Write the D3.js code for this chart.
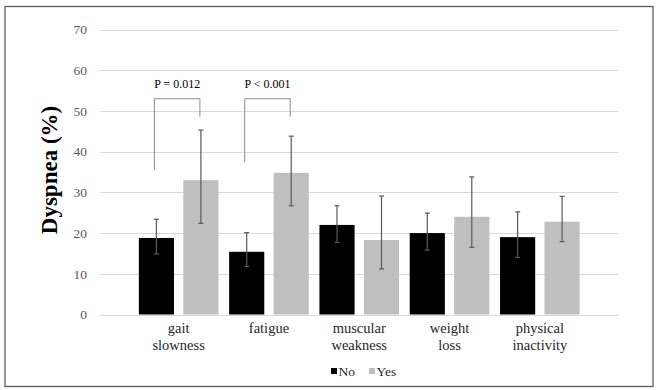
<!DOCTYPE html>
<html lang="en">
<head>
<meta charset="utf-8">
<script src="https://d3js.org/d3.v7.min.js"></script>
<style>
  body { margin: 0; background: #fff; }
  svg text { font-family: "Liberation Serif", "DejaVu Serif", serif !important; }
</style>
</head>
<body>
<script>
  var width = 660,
      height = 390;

  // data
  var categories = [["gait", "slowness"], ["fatigue"], ["muscular", "weakness"], ["weight", "loss"], ["physical", "inactivity"]];
  var catKeys = ["gait slowness", "fatigue", "muscular weakness", "weight loss", "physical inactivity"];
  var series = ["No", "Yes"];
  var noValues = [18.8, 15.4, 22.0, 20.0, 19.0];
  var noLow = [14.9, 11.8, 17.7, 15.8, 14.0];
  var noHigh = [23.4, 20.1, 26.7, 24.9, 25.2];
  var yesValues = [33.0, 34.8, 18.3, 24.0, 22.8];
  var yesLow = [22.4, 26.7, 11.2, 16.5, 17.9];
  var yesHigh = [45.3, 43.8, 29.1, 33.8, 29.0];
  var yTicks = [0, 10, 20, 30, 40, 50, 60, 70];
  // significance brackets: category index, label, left leg end, right leg end, top
  var brackets = [
    { cat: 0, label: "P = 0.012", left: 35.5, right: 48.6, top: 53 },
    { cat: 1, label: "P < 0.001", left: 37.4, right: 48.6, top: 53 }
  ];

  var colours = { "No": "#000000", "Yes": "#bfbfbf" };
  var serif = '"Liberation Serif", "Times New Roman", serif';

  var svg = d3.select('body')
    .append('svg')
    .attr('width', width)
    .attr('height', height);

  // outer frame
  svg.append('rect')
    .attr('x', 5).attr('y', 6.5)
    .attr('width', 648).attr('height', 380)
    .attr('fill', 'none')
    .attr('stroke', '#5a5a5a')
    .attr('stroke-width', 1.3);

  var y = d3.scaleLinear().domain([0, 70]).range([314.5, 29.5]);
  var x = d3.scaleBand().domain(catKeys).range([133.5, 585]).paddingInner(0).paddingOuter(0);
  var xs = d3.scaleBand().domain(series).range([0, x.bandwidth()]).paddingInner(0.21).paddingOuter(0.12);

  // gridlines
  svg.append('g').selectAll('line')
    .data(yTicks)
    .join('line')
    .attr('x1', 100).attr('x2', 618)
    .attr('y1', function(d) { return Math.round(y(d)) + 0.5; })
    .attr('y2', function(d) { return Math.round(y(d)) + 0.5; })
    .attr('stroke', '#d9d9d9')
    .attr('stroke-width', 1.2);

  // y axis labels
  var yAxis = d3.axisLeft(y).tickValues(yTicks).tickSize(0).tickPadding(0);
  var ya = svg.append('g').attr('transform', 'translate(87,0)').call(yAxis);
  ya.attr('font-family', serif);
  ya.select('.domain').remove();
  ya.selectAll('text')
    .attr('fill', '#595959')
    .style('font-size', '13.5px')
    .style('font-family', serif);

  // y title
  svg.append('text')
    .attr('transform', 'translate(57,170) rotate(-90)')
    .attr('text-anchor', 'middle')
    .style('font-family', serif)
    .style('font-size', '23px')
    .style('font-weight', 'bold')
    .attr('fill', '#000')
    .text('Dyspnea (%)');

  var rows = catKeys.map(function(k, i) {
    return [
      { cat: k, s: "No", v: noValues[i], lo: noLow[i], hi: noHigh[i] },
      { cat: k, s: "Yes", v: yesValues[i], lo: yesLow[i], hi: yesHigh[i] }
    ];
  }).flat();

  // bars
  svg.append('g').selectAll('rect')
    .data(rows)
    .join('rect')
    .attr('x', function(d) { return x(d.cat) + xs(d.s); })
    .attr('width', xs.bandwidth())
    .attr('y', function(d) { return y(d.v); })
    .attr('height', function(d) { return y(0) - y(d.v); })
    .attr('fill', function(d) { return colours[d.s]; });

  // error bars
  var eb = svg.append('g').attr('stroke', '#595959').attr('stroke-width', 1.2);
  rows.forEach(function(d) {
    var cx = x(d.cat) + xs(d.s) + xs.bandwidth() / 2;
    eb.append('line').attr('x1', cx).attr('x2', cx).attr('y1', y(d.hi)).attr('y2', y(d.lo));
    eb.append('line').attr('x1', cx - 2.5).attr('x2', cx + 2.5).attr('y1', y(d.hi)).attr('y2', y(d.hi));
    eb.append('line').attr('x1', cx - 2.5).attr('x2', cx + 2.5).attr('y1', y(d.lo)).attr('y2', y(d.lo));
  });

  // significance brackets
  brackets.forEach(function(b) {
    var k = catKeys[b.cat];
    var bl = x(k) + xs("No") + xs.bandwidth() / 2 - 2;
    var br = x(k) + xs("Yes") + xs.bandwidth() / 2 - 1;
    svg.append('path')
      .attr('d', 'M' + bl + ',' + y(b.left) + 'V' + y(b.top) + 'H' + br + 'V' + y(b.right))
      .attr('fill', 'none')
      .attr('stroke', '#8c8c8c')
      .attr('stroke-width', 1);
    svg.append('text')
      .attr('x', (bl + br) / 2)
      .attr('y', y(b.top) - 11)
      .attr('text-anchor', 'middle')
      .style('font-family', serif)
      .style('font-size', '12px')
      .attr('fill', '#000')
      .text(b.label);
  });

  // category labels
  var cl = svg.append('g');
  categories.forEach(function(lines, i) {
    var t = cl.append('text')
      .attr('x', x(catKeys[i]) + x.bandwidth() / 2)
      .attr('y', 333)
      .attr('text-anchor', 'middle')
      .style('font-family', serif)
      .style('font-size', '14.5px')
      .attr('fill', '#262626');
    lines.forEach(function(l, j) {
      t.append('tspan')
        .attr('x', x(catKeys[i]) + x.bandwidth() / 2)
        .attr('dy', j === 0 ? 0 : 16.5)
        .text(l);
    });
  });

  // legend
  var legendX = [331, 369];
  var lg = svg.append('g');
  series.forEach(function(s, i) {
    lg.append('rect')
      .attr('x', legendX[i]).attr('y', 368)
      .attr('width', 6).attr('height', 6)
      .attr('fill', colours[s]);
    lg.append('text')
      .attr('x', legendX[i] + 7.5).attr('y', 376)
      .style('font-family', serif)
      .style('font-size', '13.5px')
      .attr('fill', '#262626')
      .text(s);
  });
</script>
</body>
</html>
